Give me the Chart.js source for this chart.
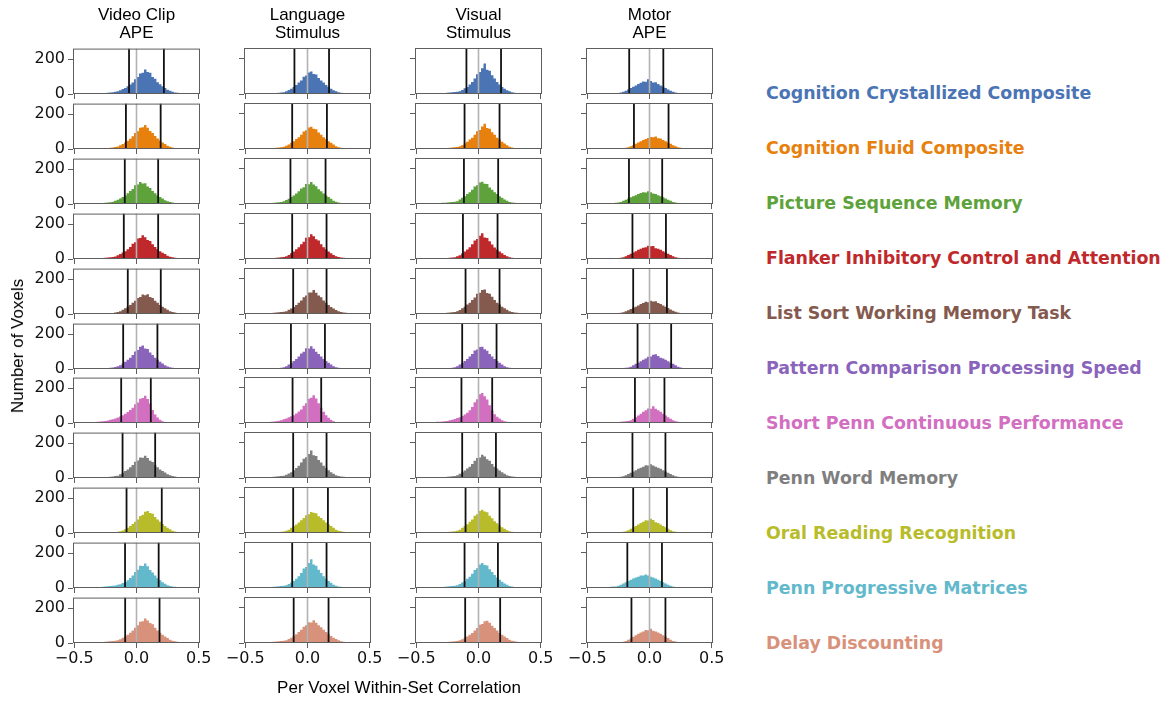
<!DOCTYPE html>
<html>
<head>
<meta charset="utf-8">
<script src="https://cdn.jsdelivr.net/npm/chart.js@4.4.0/dist/chart.umd.min.js"></script>
<style>
  html, body { margin: 0; padding: 0; background: #fff; }
  #fig { position: relative; width: 1167px; height: 701px; overflow: hidden; background: #fff; }
  #fig canvas { position: absolute; }
  .col-title {
    position: absolute; width: 200px; text-align: center;
    font-family: "Liberation Sans", Arial, sans-serif; font-size: 17px; line-height: 18.6px; color: #000;
  }
  .axis-label {
    position: absolute; white-space: nowrap;
    font-family: "Liberation Sans", Arial, sans-serif; font-size: 17px; line-height: 20px; color: #000;
  }
  .legend-item {
    position: absolute; left: 766px; white-space: nowrap;
    font-family: "DejaVu Sans", sans-serif; font-weight: bold; font-size: 17.4px; line-height: 20px;
  }
</style>
</head>
<body>
<div id="fig"></div>
<script>
// ---- data -------------------------------------------------------------
const columnTitles = [['Video Clip', 'APE'], ['Language', 'Stimulus'], ['Visual', 'Stimulus'], ['Motor', 'APE']];
const measureNames = [
  'Cognition Crystallized Composite', 'Cognition Fluid Composite', 'Picture Sequence Memory',
  'Flanker Inhibitory Control and Attention', 'List Sort Working Memory Task',
  'Pattern Comparison Processing Speed', 'Short Penn Continuous Performance', 'Penn Word Memory',
  'Oral Reading Recognition', 'Penn Progressive Matrices', 'Delay Discounting'
];
const measureColors = ['#4a74b4', '#e8800d', '#5da23a', '#c0292b', '#845a4e', '#8a63bb',
                       '#d26fc1', '#7f7f7f', '#b8bc2a', '#63b9cc', '#d8917a'];
const xLabel = 'Per Voxel Within-Set Correlation';
const yLabel = 'Number of Voxels';
const xTickValues = [-0.5, 0, 0.5];
const xTickLabels = ['\u22120.5', '0.0', '0.5'];
const yTickValues = [0, 200];
const yTickLabels = ['0', '200'];

// histogram bin centres (bin width 0.02)
const binCenters = [
  -0.49, -0.47, -0.45, -0.43, -0.41, -0.39, -0.37, -0.35, -0.33, -0.31,
  -0.29, -0.27, -0.25, -0.23, -0.21, -0.19, -0.17, -0.15, -0.13, -0.11,
  -0.09, -0.07, -0.05, -0.03, -0.01, 0.01, 0.03, 0.05, 0.07, 0.09,
  0.11, 0.13, 0.15, 0.17, 0.19, 0.21, 0.23, 0.25, 0.27, 0.29,
  0.31, 0.33, 0.35, 0.37, 0.39, 0.41, 0.43, 0.45, 0.47, 0.49
];

// voxel counts per bin, one row per measure
const countsVideoClip = [
  [0,0,0,0,0,0,0,0,0,0, 3,4,6,7,9,10,13,16,22,29, 35,44,54,66,85,97,118,121,140,126, 121,98,87,67,56,44,34,25,18,13, 9,7,4,3,0,0,0,0,0,0],
  [0,0,0,0,0,0,0,0,0,0, 0,3,4,6,7,9,12,15,21,29, 37,47,59,73,92,101,122,124,138,121, 103,91,74,60,48,37,28,19,13,9, 6,4,3,0,0,0,0,0,0,0],
  [0,0,0,0,0,0,0,0,3,4, 4,6,7,9,10,13,18,24,31,40, 49,62,75,86,107,111,126,117,119,100, 92,75,62,49,40,31,22,16,12,9, 6,4,3,3,0,0,0,0,0,0],
  [0,0,0,0,0,0,0,0,0,3, 4,6,7,9,10,12,15,21,29,37, 45,56,69,87,96,117,120,136,124,109, 103,84,69,56,45,36,28,19,13,10, 7,6,4,4,3,0,0,0,0,0],
  [0,0,0,0,0,0,0,0,0,0, 0,0,0,3,4,6,9,12,16,24, 33,42,52,64,76,92,98,112,108,113, 97,91,76,64,52,42,33,24,16,12, 9,6,4,3,0,0,0,0,0,0],
  [0,0,0,0,0,0,0,0,0,0, 0,3,4,6,7,9,12,16,21,31, 41,53,64,80,100,109,127,134,118,114, 95,80,64,53,41,31,22,15,10,7, 6,4,3,0,0,0,0,0,0,0],
  [0,3,3,4,3,4,4,6,6,7, 9,10,12,15,18,22,26,31,37,44, 53,63,74,88,108,117,139,143,156,138, 112,74,48,32,19,10,6,3,0,0, 0,0,0,0,0,0,0,0,0,0],
  [0,0,0,0,0,0,0,0,0,0, 0,3,4,6,7,9,12,13,21,30, 40,49,62,75,93,100,118,116,128,115, 99,92,75,62,49,40,31,22,16,12, 9,6,4,3,0,0,0,0,0,0],
  [0,0,0,0,0,0,0,0,0,0, 0,0,0,0,3,4,6,7,10,15, 22,30,40,51,65,77,97,104,121,126, 114,110,92,77,65,51,40,30,21,13, 9,6,4,3,0,0,0,0,0,0],
  [0,0,0,0,0,0,3,3,4,4, 6,7,9,10,12,13,15,18,22,28, 35,45,57,71,92,104,127,126,140,124, 103,89,71,56,44,33,24,16,12,9, 7,6,4,4,3,3,0,0,0,0],
  [0,0,0,0,0,0,0,0,0,3, 4,6,7,9,10,12,13,16,22,30, 38,47,58,72,88,101,122,124,141,129, 115,107,88,72,58,47,37,28,19,13, 10,7,6,4,3,0,0,0,0,0]
];
const countsLanguage = [
  [0,0,0,0,0,0,0,0,0,0, 3,4,6,7,9,10,15,22,30,40, 51,65,77,97,104,121,127,113,110,91, 77,65,51,40,30,21,15,10,7,6, 4,3,3,0,0,0,0,0,0,0],
  [0,0,0,0,0,0,0,0,0,3, 4,6,7,9,10,13,19,25,35,44, 56,67,81,99,106,121,126,115,112,93, 81,67,56,44,35,25,16,10,7,6, 4,3,0,0,0,0,0,0,0,0],
  [0,0,0,3,3,3,4,4,4,6, 6,7,9,10,12,15,22,30,39,48, 60,72,88,95,113,111,124,110,101,83, 72,60,48,39,29,19,13,9,6,4, 4,3,3,0,0,0,0,0,0,0],
  [0,0,0,0,0,0,0,0,0,3, 4,6,7,9,10,12,16,22,32,43, 55,67,84,98,120,123,140,128,112,104, 83,67,55,43,32,22,16,12,9,7, 6,4,3,3,0,0,0,0,0,0],
  [0,0,0,0,0,0,0,0,3,4, 6,7,9,10,12,13,16,24,31,40, 51,64,77,95,104,122,121,135,120,104, 94,77,64,51,40,31,22,16,12,9, 7,6,4,3,3,0,0,0,0,0],
  [0,0,0,0,0,0,0,0,0,0, 0,3,4,6,7,10,16,25,35,45, 57,70,88,98,117,116,128,115,97,85, 70,57,45,35,25,16,10,7,6,4, 3,3,0,0,0,0,0,0,0,0],
  [0,0,3,3,3,4,4,4,6,6, 7,9,10,13,16,21,26,32,38,44, 54,65,77,98,112,137,143,157,139,112, 86,63,44,30,18,10,6,3,0,0, 0,0,0,0,0,0,0,0,0,0],
  [0,0,0,0,0,0,3,3,4,4, 6,7,9,10,12,13,18,25,33,44, 57,69,87,109,117,135,156,128,124,102, 87,69,57,44,33,24,16,12,9,7, 6,4,3,3,0,0,0,0,0,0],
  [0,0,0,0,0,0,0,0,0,0, 0,3,4,6,7,9,13,19,29,39, 48,60,72,85,101,106,119,115,112,95, 85,72,60,48,39,29,19,13,10,7, 6,4,3,3,0,0,0,0,0,0],
  [0,0,0,0,0,3,3,4,4,6, 6,7,9,10,12,13,16,22,31,40, 52,66,85,110,119,141,162,133,126,103, 85,66,52,40,29,19,13,9,7,6, 4,4,3,3,0,0,0,0,0,0],
  [0,0,0,0,0,0,0,3,4,4, 6,7,9,10,12,13,16,22,30,40, 49,62,75,92,100,117,116,129,115,100, 89,75,62,49,40,30,22,15,10,7, 6,4,3,0,0,0,0,0,0,0]
];
const countsVisual = [
  [0,0,0,0,0,0,0,0,0,3, 4,6,7,9,10,12,13,16,22,32, 40,54,68,88,112,124,146,172,137,131, 106,88,68,54,40,30,21,15,10,7, 6,4,3,3,0,0,0,0,0,0],
  [0,0,0,0,0,0,0,0,0,0, 3,4,6,7,9,10,12,15,21,31, 41,53,64,80,100,108,127,143,119,115, 94,80,64,53,41,31,21,13,9,6, 4,3,0,0,0,0,0,0,0,0],
  [0,0,0,3,3,3,4,4,6,6, 7,7,9,10,12,13,16,25,35,44, 56,67,81,99,106,121,126,114,113,93, 81,67,56,44,35,25,18,12,9,7, 6,4,3,3,0,0,0,0,0,0],
  [0,0,0,0,0,0,0,0,3,3, 4,6,6,7,9,10,15,21,31,42, 54,66,83,104,113,132,145,122,118,100, 82,65,54,42,32,22,15,10,7,6, 4,3,3,0,0,0,0,0,0,0],
  [0,0,0,0,0,0,0,0,0,3, 4,6,7,9,10,12,15,22,32,41, 53,63,79,93,115,120,135,138,119,114, 98,79,63,53,41,32,24,16,12,9, 7,6,4,4,3,3,0,0,0,0],
  [0,0,0,0,0,0,0,0,0,0, 3,3,4,6,7,10,16,25,35,45, 57,70,85,104,110,124,126,111,103,85, 70,57,45,35,25,16,10,7,6,4, 3,3,0,0,0,0,0,0,0,0],
  [3,3,3,4,4,4,6,6,7,7, 9,10,12,15,18,22,28,33,40,48, 58,72,90,117,134,163,170,151,133,100, 70,49,36,25,16,10,7,4,3,0, 0,0,0,0,0,0,0,0,0,0],
  [0,0,0,0,0,0,0,0,3,3, 4,6,7,9,10,12,16,24,33,43, 53,64,79,98,113,116,131,122,106,97, 79,64,53,43,33,24,16,12,9,7, 6,4,3,3,0,0,0,0,0,0],
  [0,0,0,0,0,0,0,0,0,0, 3,4,6,7,9,10,13,19,29,39, 49,63,77,97,106,124,131,121,117,98, 83,67,55,43,33,24,16,10,7,6, 4,3,3,0,0,0,0,0,0,0],
  [0,0,0,0,0,0,3,3,4,4, 6,7,9,10,12,13,16,22,31,40, 52,64,81,102,112,133,142,130,127,106, 91,74,59,46,36,26,18,12,9,6, 4,3,3,0,0,0,0,0,0,0],
  [0,0,0,0,0,0,0,0,0,3, 3,4,6,7,9,10,12,15,21,29, 37,46,57,70,85,103,108,123,126,114, 97,85,70,57,46,37,28,19,13,10, 7,6,4,4,3,3,3,0,0,0]
];
const countsMotor = [
  [0,0,0,0,0,0,0,0,0,3, 4,6,6,9,13,19,26,34,41,48, 56,64,71,69,83,74,65,66,56,48, 41,34,26,19,13,9,6,4,3,3, 0,0,0,0,0,0,0,0,0,0],
  [0,0,0,0,0,0,0,0,0,0, 0,3,3,4,6,7,10,15,21,29, 37,44,51,57,62,68,66,70,61,59, 51,44,37,29,21,15,10,7,4,3, 0,0,0,0,0,0,0,0,0,0],
  [0,0,0,0,0,3,3,4,4,6, 6,7,9,12,18,24,31,38,44,50, 56,62,66,65,72,66,60,56,50,44, 38,31,24,18,12,9,6,4,3,3, 3,0,0,0,0,0,0,0,0,0],
  [0,0,0,0,0,0,0,0,0,0, 3,4,4,7,10,15,22,30,37,44, 52,58,63,66,75,72,73,61,58,52, 44,37,30,22,15,10,7,6,4,3, 3,3,0,0,0,0,0,0,0,0],
  [0,0,0,0,0,0,0,0,0,3, 3,4,4,7,10,15,21,28,35,41, 48,56,62,69,67,75,71,72,62,56, 48,41,34,26,19,13,9,6,4,3, 3,0,0,0,0,0,0,0,0,0],
  [0,0,0,0,0,0,0,0,0,0, 0,3,3,4,6,7,9,13,21,29, 36,44,52,60,69,70,80,84,74,64, 60,52,44,36,29,21,13,9,6,4, 4,3,3,0,0,0,0,0,0,0],
  [0,0,0,0,0,0,3,3,3,4, 4,6,6,7,9,10,12,15,24,33, 42,52,63,72,82,81,94,80,72,63, 52,42,33,24,15,10,7,6,4,3, 3,0,0,0,0,0,0,0,0,0],
  [0,0,0,0,3,3,3,3,4,4, 4,6,6,7,10,15,22,30,37,44, 52,58,63,72,70,78,70,63,58,52, 44,37,30,22,15,10,7,6,4,3, 3,3,0,0,0,0,0,0,0,0],
  [0,0,0,0,0,0,0,0,0,0, 3,3,4,6,7,10,16,24,32,40, 48,56,63,72,71,80,73,61,56,48, 40,32,24,16,10,7,6,4,3,3, 0,0,0,0,0,0,0,0,0,0],
  [3,3,3,3,4,4,4,6,6,7, 9,9,13,18,25,33,40,46,54,60, 64,71,70,77,70,64,60,54,46,40, 33,25,18,13,9,6,4,3,3,0, 0,0,0,0,0,0,0,0,0,0],
  [0,0,0,0,0,0,0,0,0,3, 3,4,4,6,7,12,18,26,35,44, 52,60,65,73,72,80,69,65,60,52, 44,36,28,19,12,9,6,4,3,3, 0,0,0,0,0,0,0,0,0,0]
];

// lower / upper threshold lines per measure
const lowerVideoClip = [-0.060, -0.085, -0.094, -0.102, -0.070, -0.107, -0.123, -0.112, -0.080, -0.092, -0.091];
const upperVideoClip = [0.220, 0.194, 0.174, 0.174, 0.195, 0.168, 0.115, 0.150, 0.203, 0.178, 0.185];
const lowerLanguage  = [-0.105, -0.123, -0.137, -0.123, -0.115, -0.133, -0.120, -0.115, -0.115, -0.123, -0.111];
const upperLanguage  = [0.173, 0.156, 0.145, 0.153, 0.153, 0.140, 0.110, 0.153, 0.164, 0.153, 0.169];
const lowerVisual    = [-0.097, -0.112, -0.117, -0.125, -0.104, -0.131, -0.137, -0.131, -0.104, -0.112, -0.107];
const upperVisual    = [0.181, 0.169, 0.158, 0.153, 0.169, 0.145, 0.110, 0.140, 0.169, 0.156, 0.174];
const lowerMotor     = [-0.163, -0.125, -0.165, -0.137, -0.131, -0.096, -0.117, -0.137, -0.131, -0.178, -0.145];
const upperMotor     = [0.111, 0.153, 0.102, 0.132, 0.140, 0.174, 0.120, 0.128, 0.140, 0.100, 0.128];

// ---- layout -----------------------------------------------------------
const countsByColumn = [countsVideoClip, countsLanguage, countsVisual, countsMotor];
const lowerByColumn = [lowerVideoClip, lowerLanguage, lowerVisual, lowerMotor];
const upperByColumn = [upperVideoClip, upperLanguage, upperVisual, upperMotor];

const panelLefts = [73, 244, 415, 586];
const panelTops = [48, 103, 158, 213, 268, 323, 377, 432, 487, 542, 597];
const PANEL_W = 127, PANEL_H = 46;
const X_MIN = -0.51, X_MAX = 0.51, Y_MAX = 260;
const PAD_L = 60, PAD_R = 30, PAD_T = 12, PAD_B = 36;
const SPINE = '#5e5e5e';
const TICK_FONT = { family: 'DejaVu Sans', size: 16 };

const fig = document.getElementById('fig');

// frame around each panel, drawn above the bars like matplotlib spines
const panelFrame = {
  id: 'panelFrame',
  afterDatasetsDraw(chart) {
    const { ctx, chartArea: a } = chart;
    ctx.save();
    ctx.strokeStyle = SPINE;
    ctx.lineWidth = 1;
    ctx.strokeRect(a.left + 0.5, a.top + 0.5, a.right - a.left - 1, a.bottom - a.top - 1);
    ctx.restore();
  }
};

function vline(x, color, width) {
  return {
    type: 'line',
    data: [{ x: x, y: 0 }, { x: x, y: Y_MAX }],
    borderColor: color, borderWidth: width,
    pointRadius: 0, fill: false
  };
}

function makePanel(col, row) {
  const canvas = document.createElement('canvas');
  const w = PANEL_W + PAD_L + PAD_R, h = PANEL_H + PAD_T + PAD_B;
  canvas.width = w; canvas.height = h;
  canvas.style.width = w + 'px'; canvas.style.height = h + 'px';
  canvas.style.left = (panelLefts[col] - PAD_L) + 'px';
  canvas.style.top = (panelTops[row] - PAD_T) + 'px';
  fig.appendChild(canvas);

  const counts = countsByColumn[col][row];
  const showX = row === panelTops.length - 1;
  const showY = col === 0;

  new Chart(canvas, {
    type: 'line',
    data: {
      datasets: [
        vline(lowerByColumn[col][row], '#111111', 1.8),
        vline(upperByColumn[col][row], '#111111', 1.8),
        vline(0, '#b3b3b3', 1.6),
        {
          type: 'line',
          data: binCenters.map((x, i) => ({ x: x, y: counts[i] })),
          stepped: 'middle',
          fill: 'origin',
          backgroundColor: measureColors[row],
          borderColor: 'rgba(0,0,0,0)',
          borderWidth: 0,
          pointRadius: 0
        }
      ]
    },
    options: {
      responsive: false,
      devicePixelRatio: 1,
      animation: false,
      events: [],
      layout: { padding: { left: 0, right: PAD_R, top: PAD_T, bottom: 0 } },
      plugins: { legend: { display: false }, tooltip: { enabled: false }, title: { display: false } },
      scales: {
        x: {
          type: 'linear', min: X_MIN, max: X_MAX,
          afterFit(s) { s.height = PAD_B; },
          afterBuildTicks(s) { s.ticks = xTickValues.map(v => ({ value: v })); },
          ticks: {
            display: showX, autoSkip: false, maxRotation: 0, padding: 1,
            font: TICK_FONT, color: '#111',
            callback: (v, i) => xTickLabels[i]
          },
          grid: { display: true, drawOnChartArea: false, drawTicks: true, tickLength: 5, color: SPINE, lineWidth: 1 },
          border: { display: false }
        },
        y: {
          type: 'linear', min: 0, max: Y_MAX,
          afterFit(s) { s.width = PAD_L; },
          afterBuildTicks(s) { s.ticks = yTickValues.map(v => ({ value: v })); },
          ticks: {
            display: showY, autoSkip: false, padding: 3,
            font: TICK_FONT, color: '#111',
            callback: (v, i) => yTickLabels[i]
          },
          grid: { display: true, drawOnChartArea: false, drawTicks: true, tickLength: 5, color: SPINE, lineWidth: 1 },
          border: { display: false }
        }
      }
    },
    plugins: [panelFrame]
  });
}

for (let c = 0; c < 4; c++) {
  for (let r = 0; r < panelTops.length; r++) makePanel(c, r);
}

// column titles
columnTitles.forEach((lines, c) => {
  const d = document.createElement('div');
  d.className = 'col-title';
  d.style.left = (panelLefts[c] + PANEL_W / 2 - 100) + 'px';
  d.style.top = '5.5px';
  d.innerHTML = lines.join('<br>');
  fig.appendChild(d);
});

// shared axis labels
const xl = document.createElement('div');
xl.className = 'axis-label';
xl.textContent = xLabel;
xl.style.left = '399px'; xl.style.top = '688px';
xl.style.transform = 'translate(-50%, -50%)';
fig.appendChild(xl);

const yl = document.createElement('div');
yl.className = 'axis-label';
yl.textContent = yLabel;
yl.style.left = '18px'; yl.style.top = '346px';
yl.style.transform = 'translate(-50%, -50%) rotate(-90deg)';
fig.appendChild(yl);

// legend: one coloured label per measure
measureNames.forEach((name, i) => {
  const d = document.createElement('div');
  d.className = 'legend-item';
  d.style.color = measureColors[i];
  d.style.top = (83.3 + 54.96 * i) + 'px';
  d.textContent = name;
  fig.appendChild(d);
});
</script>
</body>
</html>
